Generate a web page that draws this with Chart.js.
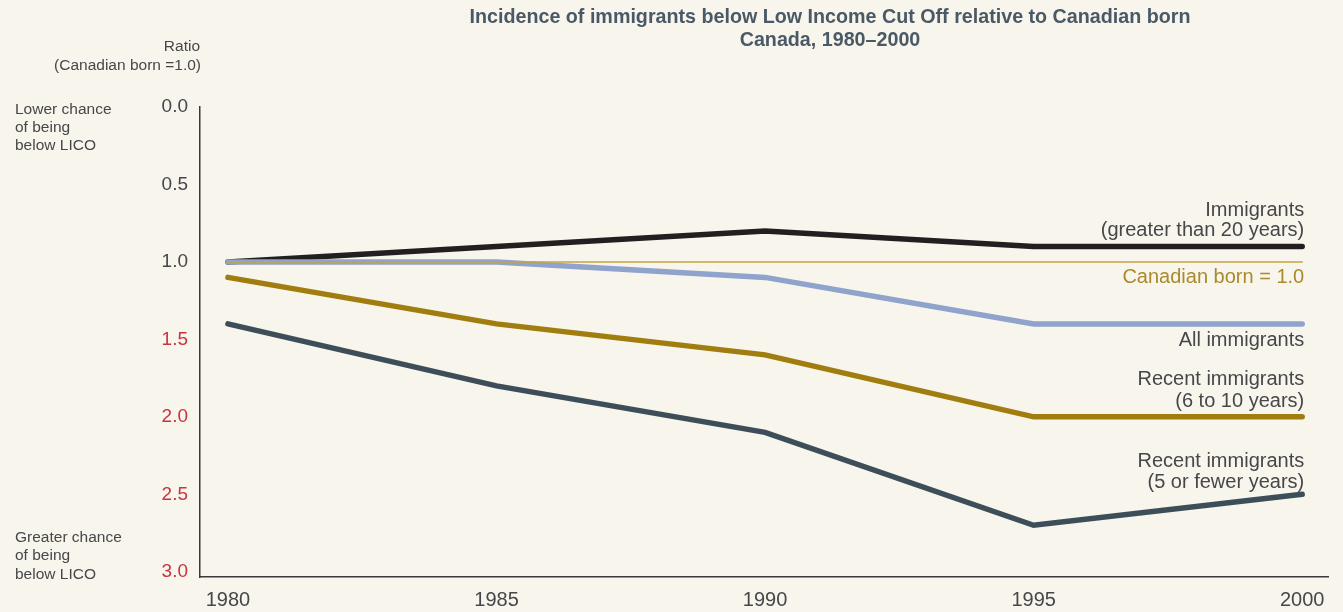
<!DOCTYPE html>
<html>
<head>
<meta charset="utf-8">
<title>Incidence of immigrants below LICO</title>
<script src="https://cdn.jsdelivr.net/npm/chart.js@4"></script>
<style>
  body { margin: 0; background: #f8f5ed; }
  canvas { display: block; }
</style>
</head>
<body>
<canvas id="licoChart" width="1343" height="612"></canvas>
<script>
// Census years and ratio values (Canadian born = 1.0)
const years = [1980, 1985, 1990, 1995, 2000];
const yTicks = [0, 0.5, 1, 1.5, 2, 2.5, 3];

const canadianBorn = [1.0, 1.0, 1.0, 1.0, 1.0];
const immigrantsOver20 = [1.0, 0.9, 0.8, 0.9, 0.9];
const allImmigrants = [1.0, 1.0, 1.1, 1.4, 1.4];
const recent6to10 = [1.1, 1.4, 1.6, 2.0, 2.0];
const recent5orFewer = [1.4, 1.8, 2.1, 2.7, 2.5];

const FONT = "'Liberation Sans', Arial, Helvetica, sans-serif";
const TEXT = "#47474a";
const RED = "#c8343f";

function pts(values) {
    return values.map((v, i) => ({ x: years[i], y: v }));
}

// Labels at the right end of each line plus the side notes
const annotations = {
    id: "annotations",
    afterDraw(chart) {
        const ctx = chart.ctx;
        const xs = chart.scales.x;
        const ys = chart.scales.y;
        const right = xs.getPixelForValue(2000) + 2;

        ctx.save();
        ctx.textBaseline = "middle";

        // title
        ctx.fillStyle = "#4a5966";
        ctx.font = "bold 19.7px " + FONT;
        ctx.textAlign = "center";
        ctx.fillText("Incidence of immigrants below Low Income Cut Off relative to Canadian born", 830, 18);
        ctx.fillText("Canada, 1980\u20132000", 830, 41);

        // axis caption
        ctx.fillStyle = TEXT;
        ctx.font = "15.5px " + FONT;
        ctx.textAlign = "right";
        ctx.fillText("Ratio", 200, 47);
        ctx.fillText("(Canadian born =1.0)", 201, 66);

        ctx.textAlign = "left";
        ctx.fillText("Lower chance", 15, 110);
        ctx.fillText("of being", 15, 128);
        ctx.fillText("below LICO", 15, 146);
        ctx.fillText("Greater chance", 15, 538);
        ctx.fillText("of being", 15, 556);
        ctx.fillText("below LICO", 15, 575);

        // line labels
        const last = arr => ys.getPixelForValue(arr[arr.length - 1]);
        ctx.font = "20px " + FONT;
        ctx.textAlign = "right";
        ctx.fillStyle = TEXT;
        let y = last(immigrantsOver20);
        ctx.fillText("Immigrants", right, y - 36);
        ctx.fillText("(greater than 20 years)", right, y - 16);

        y = last(allImmigrants);
        ctx.fillText("All immigrants", right, y + 17);

        y = last(recent6to10);
        ctx.fillText("Recent immigrants", right, y - 37);
        ctx.fillText("(6 to 10 years)", right, y - 15);

        y = last(recent5orFewer);
        ctx.fillText("Recent immigrants", right, y - 33);
        ctx.fillText("(5 or fewer years)", right, y - 12);

        ctx.fillStyle = "#a98a2c";
        y = last(canadianBorn);
        ctx.fillText("Canadian born = 1.0", right, y + 16);

        ctx.restore();
    }
};

const lineStyle = {
    pointRadius: 0,
    tension: 0,
    borderCapStyle: "round",
    borderJoinStyle: "miter",
    fill: false
};

new Chart(document.getElementById("licoChart"), {
    type: "line",
    data: {
        datasets: [
            Object.assign({ label: "Canadian born = 1.0", data: pts(canadianBorn), borderColor: "#c4a443", borderWidth: 1.5 }, lineStyle),
            Object.assign({ label: "All immigrants", data: pts(allImmigrants), borderColor: "#8fa3cc", borderWidth: 5.5 }, lineStyle),
            Object.assign({ label: "Immigrants (greater than 20 years)", data: pts(immigrantsOver20), borderColor: "#231f20", borderWidth: 5.5 }, lineStyle),
            Object.assign({ label: "Recent immigrants (6 to 10 years)", data: pts(recent6to10), borderColor: "#a17d0f", borderWidth: 5.5 }, lineStyle),
            Object.assign({ label: "Recent immigrants (5 or fewer years)", data: pts(recent5orFewer), borderColor: "#3e4e59", borderWidth: 5.5 }, lineStyle)
        ]
    },
    options: {
        responsive: false,
        animation: false,
        devicePixelRatio: 1,
        layout: { padding: { top: 107, right: 15, left: 0, bottom: 0 } },
        plugins: {
            legend: { display: false },
            tooltip: { enabled: false }
        },
        scales: {
            x: {
                type: "linear",
                min: 1979.48,
                max: 2000.48,
                afterBuildTicks: scale => { scale.ticks = years.map(v => ({ value: v })); },
                afterFit: scale => { scale.height = 35; },
                grid: { display: false, drawTicks: false },
                border: { display: true, color: "#3a3a3a", width: 1.5 },
                ticks: {
                    color: TEXT,
                    font: { family: FONT, size: 20 },
                    padding: 11,
                    maxRotation: 0,
                    autoSkip: false,
                    callback: v => String(v)
                }
            },
            y: {
                reverse: true,
                min: 0,
                max: 3.034,
                afterBuildTicks: scale => { scale.ticks = yTicks.map(v => ({ value: v })); },
                afterFit: scale => { scale.width = 200; },
                grid: { display: false, drawTicks: false },
                border: { display: true, color: "#3a3a3a", width: 1.5 },
                ticks: {
                    color: c => (c.tick && c.tick.value >= 1.5 ? RED : TEXT),
                    font: { family: FONT, size: 19 },
                    padding: 12,
                    autoSkip: false,
                    callback: v => v.toFixed(1)
                }
            }
        }
    },
    plugins: [annotations]
});
</script>
</body>
</html>
